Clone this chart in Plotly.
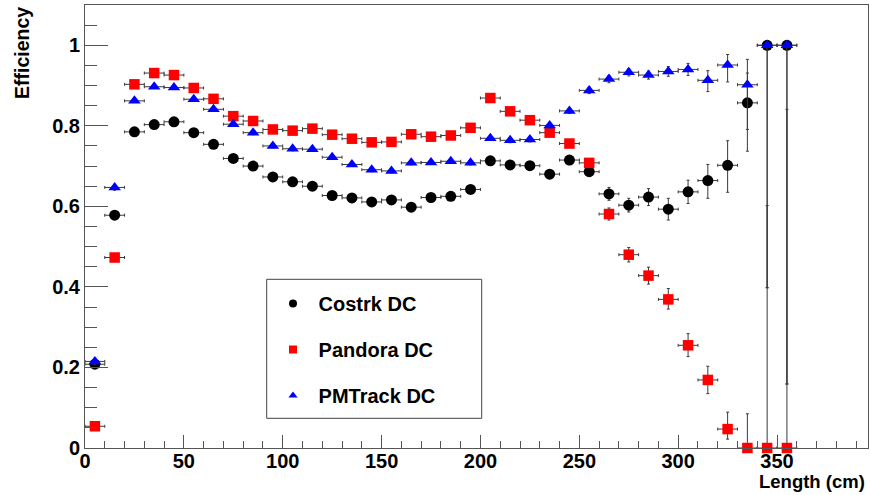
import plotly.graph_objects as go

# ---- data ----
length_cm = [5, 15, 25, 35, 45, 55, 65, 75, 85, 95, 105, 115, 125, 135, 145, 155, 165, 175,
             185, 195, 205, 215, 225, 235, 245, 255, 265, 275, 285, 295, 305, 315, 325, 335, 345, 355]
bin_half_width = 5

costrk_eff = [0.208, 0.578, 0.785, 0.803, 0.810, 0.783, 0.754, 0.719, 0.700, 0.673, 0.661, 0.650,
              0.627, 0.621, 0.611, 0.616, 0.598, 0.622, 0.625, 0.642, 0.713, 0.703, 0.701, 0.680,
              0.715, 0.686, 0.631, 0.603, 0.623, 0.593, 0.636, 0.664, 0.702, 0.857, 1.0, 1.0]
costrk_hi = [0.008, 0.007, 0.005, 0.005, 0.005, 0.005, 0.005, 0.005, 0.005, 0.005, 0.005, 0.005,
             0.005, 0.005, 0.005, 0.005, 0.005, 0.005, 0.006, 0.006, 0.006, 0.006, 0.007, 0.007,
             0.008, 0.010, 0.016, 0.017, 0.021, 0.027, 0.029, 0.040, 0.061, 0.074, 0.0, 0.0]
costrk_lo = [0.008, 0.007, 0.005, 0.005, 0.005, 0.005, 0.005, 0.005, 0.005, 0.005, 0.005, 0.005,
             0.005, 0.005, 0.005, 0.005, 0.005, 0.005, 0.006, 0.006, 0.006, 0.006, 0.007, 0.007,
             0.008, 0.010, 0.016, 0.017, 0.021, 0.027, 0.029, 0.044, 0.067, 0.120, 0.602, 0.841]

pandora_eff = [0.054, 0.473, 0.903, 0.931, 0.926, 0.894, 0.867, 0.824, 0.812, 0.791, 0.788, 0.793,
               0.778, 0.768, 0.759, 0.760, 0.779, 0.773, 0.776, 0.795, 0.869, 0.836, 0.814, 0.783,
               0.756, 0.708, 0.581, 0.480, 0.428, 0.369, 0.255, 0.169, 0.047, 0.0, 0.0, 0.0]
pandora_hi = [0.006, 0.008, 0.004, 0.004, 0.004, 0.004, 0.004, 0.005, 0.005, 0.005, 0.005, 0.005,
              0.005, 0.005, 0.005, 0.005, 0.005, 0.005, 0.006, 0.006, 0.006, 0.006, 0.007, 0.007,
              0.008, 0.010, 0.015, 0.018, 0.021, 0.027, 0.029, 0.034, 0.042, 0.085, 0.602, 0.841]
pandora_lo = [0.006, 0.008, 0.004, 0.004, 0.004, 0.004, 0.004, 0.005, 0.005, 0.005, 0.005, 0.005,
              0.005, 0.005, 0.005, 0.005, 0.005, 0.005, 0.006, 0.006, 0.006, 0.006, 0.007, 0.007,
              0.008, 0.010, 0.015, 0.018, 0.021, 0.024, 0.028, 0.034, 0.025, 0.0, 0.0, 0.0]

pmtrack_eff = [0.215, 0.647, 0.862, 0.897, 0.895, 0.866, 0.841, 0.804, 0.783, 0.750, 0.743, 0.742,
               0.722, 0.704, 0.691, 0.688, 0.708, 0.709, 0.712, 0.708, 0.769, 0.764, 0.766, 0.801,
               0.837, 0.888, 0.916, 0.933, 0.926, 0.935, 0.940, 0.913, 0.951, 0.902, 1.0, 1.0]
pmtrack_hi = [0.008, 0.007, 0.004, 0.004, 0.004, 0.004, 0.004, 0.004, 0.005, 0.005, 0.005, 0.005,
              0.005, 0.005, 0.005, 0.005, 0.005, 0.005, 0.005, 0.005, 0.005, 0.006, 0.006, 0.006,
              0.006, 0.008, 0.009, 0.009, 0.010, 0.012, 0.015, 0.024, 0.026, 0.063, 0.0, 0.0]
pmtrack_lo = [0.008, 0.007, 0.004, 0.004, 0.004, 0.004, 0.004, 0.004, 0.005, 0.005, 0.005, 0.005,
              0.005, 0.005, 0.005, 0.005, 0.005, 0.005, 0.005, 0.005, 0.005, 0.006, 0.006, 0.006,
              0.006, 0.008, 0.009, 0.009, 0.010, 0.012, 0.015, 0.028, 0.042, 0.111, 0.602, 0.841]

series_names = ["Costrk DC", "Pandora DC", "PMTrack DC"]
x_ticks = [0, 50, 100, 150, 200, 250, 300, 350]
y_ticks = [0, 0.2, 0.4, 0.6, 0.8, 1]

# ---- style ----
FONT = "Liberation Sans, Arial, Helvetica, sans-serif"
ERR_COLOR = "#3a3a3a"
AX_COLOR = "#555555"

series = [
    (series_names[0], costrk_eff, costrk_hi, costrk_lo, "circle", "black", 11),
    (series_names[1], pandora_eff, pandora_hi, pandora_lo, "square", "#ff0000", 10.5),
    (series_names[2], pmtrack_eff, pmtrack_hi, pmtrack_lo, "triangle-up", "#0000ff", 11),
]

fig = go.Figure()
for name, eff, hi, lo, sym, col, sz in series:
    fig.add_trace(go.Scatter(
        x=length_cm, y=eff, mode="markers", name=name, showlegend=False,
        marker=dict(symbol=sym, color=col, size=sz, line=dict(width=0)),
        error_x=dict(type="constant", value=bin_half_width, color=ERR_COLOR, thickness=1, width=1.5),
        error_y=dict(type="data", symmetric=False, array=hi, arrayminus=lo,
                     color=ERR_COLOR, thickness=1, width=1.5),
        cliponaxis=False,
    ))

for i, (name, eff, hi, lo, sym, col, sz) in enumerate(series):
    fig.add_trace(go.Scatter(
        x=[None], y=[None], mode="markers", name="\u00a0" + name, legendgroup=f"g{i}",
        marker=dict(symbol=sym, color=col, size=8, line=dict(width=0)),
    ))

L, R, T, B = 85, 2, 5, 47
W, H = 870, 495
pw, ph = W - L - R, H - T - B

def px_x(p):
    return (p - L) / pw

def px_y(p):
    return (H - B - p) / ph

fig.update_layout(
    width=W, height=H,
    margin=dict(l=L, r=R, t=T, b=B, pad=0),
    paper_bgcolor="white", plot_bgcolor="white",
    font=dict(family=FONT, size=19, color="black", weight="bold"),
    showlegend=True,
    legend=dict(
        x=px_x(273), y=px_y(284), xanchor="left", yanchor="top",
        bgcolor="rgba(0,0,0,0)", borderwidth=0,
        font=dict(family=FONT, size=20, color="black", weight="bold"),
        tracegroupgap=17, itemsizing="trace",
    ),
    xaxis=dict(
        range=[0, 396], tickmode="array", tickvals=x_ticks,
        ticks="inside", ticklen=13, tickwidth=1, tickcolor=AX_COLOR,
        minor=dict(dtick=10, ticks="inside", ticklen=7, tickwidth=1, tickcolor=AX_COLOR, showgrid=False),
        showline=True, linecolor=AX_COLOR, linewidth=1, mirror=True,
        showgrid=False, zeroline=False, ticklabelstandoff=-5,
        tickfont=dict(family=FONT, size=20, color="black", weight="bold"),
    ),
    yaxis=dict(
        range=[0, 1.1], tickmode="array", tickvals=y_ticks,
        ticks="inside", ticklen=23, tickwidth=1, tickcolor=AX_COLOR,
        minor=dict(dtick=0.05, ticks="inside", ticklen=12, tickwidth=1, tickcolor=AX_COLOR, showgrid=False),
        showline=True, linecolor=AX_COLOR, linewidth=1, mirror=True,
        showgrid=False, zeroline=False,
        tickfont=dict(family=FONT, size=20, color="black", weight="bold"),
    ),
    shapes=[dict(type="rect", xref="paper", yref="paper",
                 x0=px_x(266.7), x1=px_x(481.7), y0=px_y(418.3), y1=px_y(279.3),
                 line=dict(color="#444444", width=1), fillcolor="rgba(0,0,0,0)", layer="below")],
    annotations=[
        dict(text="Efficiency", xref="paper", yref="paper", x=0, y=1, xshift=22 - L,
             xanchor="center", yanchor="top", textangle=-90, showarrow=False,
             font=dict(family=FONT, size=19.5, color="black", weight="bold")),
        dict(text="Length (cm)", xref="paper", yref="paper", x=1, y=0, xshift=-1, yshift=-33,
             xanchor="right", yanchor="middle", showarrow=False,
             font=dict(family=FONT, size=18.5, color="black", weight="bold")),
    ],
)

fig.write_html("out.html")
